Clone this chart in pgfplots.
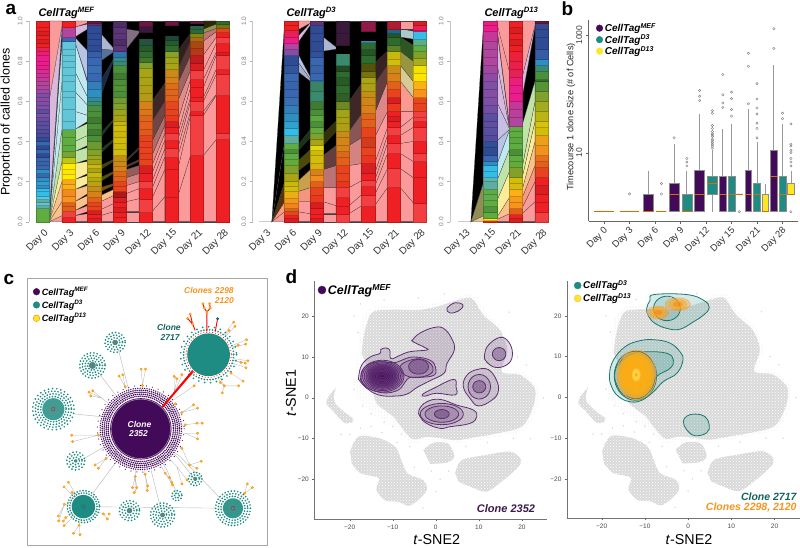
\documentclass[border=0pt]{standalone}
\usepackage{fontspec}
\setmainfont{Liberation Sans}
\usepackage{pgfplots}
\usepackage{pgfplotstable}
\pgfplotsset{compat=1.18}
\usetikzlibrary{patterns}

\newcommand{\fs}[1]{\fontsize{#1}{#1}\selectfont}
\newcommand{\ct}[1]{\textbf{\textit{CellTag\textsuperscript{#1}}}}

% stripe colours of panel a
\definecolor{rd}{HTML}{EE2024}\definecolor{rl}{HTML}{F23F41}\definecolor{rk}{HTML}{D81E20}
\definecolor{ro}{HTML}{E8431F}\definecolor{oa}{HTML}{E2601C}\definecolor{oc}{HTML}{D8801A}
\definecolor{or}{HTML}{F7941D}\definecolor{go}{HTML}{FBB016}\definecolor{ye}{HTML}{FFEC00}
\definecolor{yo}{HTML}{D2BC0C}\definecolor{ol}{HTML}{A8A416}\definecolor{og}{HTML}{83A02A}
\definecolor{gn}{HTML}{5FAD41}\definecolor{gm}{HTML}{4C8F3A}\definecolor{gk}{HTML}{2F6A2E}
\definecolor{tg}{HTML}{3A8A70}\definecolor{tl}{HTML}{5DAE9C}\definecolor{cy}{HTML}{62C5D8}
\definecolor{sk}{HTML}{35BDE8}\definecolor{sb}{HTML}{2E8FC0}\definecolor{bl}{HTML}{3A68B0}
\definecolor{bd}{HTML}{2F4B94}\definecolor{vi}{HTML}{5A4EA0}\definecolor{pu}{HTML}{7E4FA6}
\definecolor{mg}{HTML}{B0469E}\definecolor{pk}{HTML}{EC1C8C}\definecolor{rs}{HTML}{E8205A}
\definecolor{pd}{HTML}{5B3578}\definecolor{mr}{HTML}{6A1840}\definecolor{dk}{HTML}{3A1A3A}
% ribbon tints
\definecolor{tp}{HTML}{FA9A9A}\definecolor{to}{HTML}{FCC08A}\definecolor{ty}{HTML}{FBEC9A}
\definecolor{tv}{HTML}{BFE3A8}\definecolor{tc}{HTML}{BFE8F0}\definecolor{tb}{HTML}{B8C4E4}
\definecolor{tm}{HTML}{D8B8DC}
% clone colours
\definecolor{mef}{HTML}{440A5A}\definecolor{dthree}{HTML}{1E8C82}\definecolor{dthirteen}{HTML}{FDE725}
\definecolor{clorange}{HTML}{F7941D}\definecolor{clteal}{HTML}{14625E}\definecolor{clpurple}{HTML}{3B1A4A}
\definecolor{bggray}{HTML}{D9D9D9}\definecolor{leaf}{HTML}{FDB913}

% one column of stacked stripes: centre, list of top/colour
\newcommand{\stack}[2]{%
  \pgfmathsetmacro\xa{#1-.257}\pgfmathsetmacro\xb{#1+.257}%
  \gdef\ylast{0}%
  \foreach \yt/\cc in {#2}{%
    \edef\tmp{\noexpand\addplot[fill=\cc,draw=\cc!78!black,line width=.2pt,forget plot] coordinates {(\xa,\ylast)(\xb,\ylast)(\xb,\yt)(\xa,\yt)} --cycle;}%
    \tmp\xdef\ylast{\yt}}}
% ribbons between column i and i+1: left y0/left y1/right y0/right y1/colour
\newcommand{\gap}[2]{%
  \pgfmathsetmacro\xa{#1+.25}\pgfmathsetmacro\xb{#1+.75}%
  \foreach \la/\lb/\ra/\rb/\cc in {#2}{%
    \edef\tmp{\noexpand\addplot[fill=\cc,draw=black!75,line width=.2pt,forget plot] coordinates {(\xa,\la)(\xb,\ra)(\xb,\rb)(\xa,\lb)} --cycle;}%
    \tmp}}

\pgfplotsset{
  alluvial/.style={
    scale only axis, height=200.7pt, ymin=0, ymax=1,
    axis x line*=bottom, axis y line*=left,
    x axis line style={draw=none}, xtick style={draw=none},
    y axis line style={draw=gray!45,line width=.8pt,-}, ytick style={draw=gray!60},
    major tick length=3pt, tick align=outside,
    ytick={0,.2,.4,.6,.8,1}, yticklabels={0.0,0.2,0.4,0.6,0.8,1.0},
    yticklabel style={rotate=90,anchor=south,font=\fs{6.5},text=gray,yshift=0pt},
    xticklabel style={rotate=45,anchor=north east,font=\fs{10},text=black!80,inner sep=1pt,yshift=-2pt,xshift=-.5pt},
    clip=false},
  tsne/.style={
    scale only axis,
    axis x line*=bottom, axis y line*=left,
    axis line style={draw=black!55,line width=1pt,-},
    tick style={draw=black!60}, major tick length=2pt, tick align=outside,
    xtick={-20,-10,0,10,20}, ytick={-20,-10,0,10,20},
    xticklabels={−20,−10,0,10,20}, yticklabels={−20,−10,0,10,20},
    ticklabel style={font=\fs{6.5},text=black!70},
    legend cell align=left,
    legend style={draw=none,fill=none,anchor=north west,row sep=-1pt}},
  dotted ring/.style n args={3}{draw=#1,fill=none,line width=#2,line cap=round,dash pattern=on 0pt off #3},
}

% unit circle, scaled for rings and nested contours
\pgfplotstableread{
u v
1 0
.985 .174
.94 .342
.866 .5
.766 .643
.643 .766
.5 .866
.342 .94
.174 .985
0 1
-.174 .985
-.342 .94
-.5 .866
-.643 .766
-.766 .643
-.866 .5
-.94 .342
-.985 .174
-1 0
-.985 -.174
-.94 -.342
-.866 -.5
-.766 -.643
-.643 -.766
-.5 -.866
-.342 -.94
-.174 -.985
0 -1
.174 -.985
.342 -.94
.5 -.866
.643 -.766
.766 -.643
.866 -.5
.94 -.342
.985 -.174
1 0
}\unitring
\newcommand{\ovl}[5]{\addplot[#1,forget plot] table[x expr={#2+#4*\thisrow{u}},y expr={#3+#5*\thisrow{v}}] {\unitring};}
\newcommand{\drg}[6]{\ovl{dotted ring={#5}{#4}{#6}}{#1}{#2}{#3}{#3}}
\newcommand{\tdots}[4]{\drg{#1}{#2}{#3}{1.9pt}{dthree}{#4}}
\newcommand{\ctr}[2]{\addplot[#1,smooth cycle,tension=.7,forget plot] coordinates {#2};}

% t-SNE cell cloud outlines
\pgfplotstableread{
x y
-17.8 14.5
-17 19
-15 22
-10 22.5
-4 22.5
1 23.5
4 24.5
7 25.3
9.5 24.8
12 20.5
15.7 17
17.5 11.5
16.2 7
20 6.5
23.8 2.5
23.3 -3
20.5 -8
13.5 -9.7
9 -10.5
4 -11
-2 -10.5
-5.5 -11.2
-8.5 -8.5
-12 -6
-15 -3.5
-18 -.5
-19 3
-18.5 8
}\bghalo
\pgfplotstableread{
x y
-16.9 14.1
-16 18.2
-14.5 21.1
-9.8 21.6
-4.4 21.5
.2 22.3
3.7 23.5
7.2 24.5
8.7 24.1
11.1 20.2
14.9 16.6
16.6 11.7
15.3 6.4
19.6 5.6
23 2.3
22.6 -2.2
19.9 -7.1
13.4 -8.9
9.5 -9.6
4.9 -10.4
1.8 -10
-2.1 -9.6
-5.2 -10.2
-7.5 -7.9
-9.8 -4.7
-13.7 -1.4
-14.8 2.7
-16 7.6
-17.2 10.9
}\bgmain
\pgfplotstableread{
x y
-19.9 -13.2
-17.9 -9.5
-12.9 -10
-9.4 -12
-8.3 -14.4
-6.6 -18.5
-2.9 -20.2
-2.1 -22.6
-4 -25
-6.3 -26.5
-8.7 -25.5
-11.7 -25.2
-13.8 -22.6
-13.3 -19.7
-17.5 -18.5
-19.5 -16.1
}\bgleft
\pgfplotstableread{
x y
-2.9 -12.8
-.5 -11
2.9 -11.3
4.3 -14.4
2.6 -15.9
-1.3 -16.2
}\bgmid
\pgfplotstableread{
x y
4.5 -18.5
6 -15.3
11.8 -14
17.2 -13.2
19.7 -14.9
19.2 -16.9
15.7 -20.2
11.8 -23
8 -21.8
5.3 -20.6
}\bgright
\pgfplotstableread{
x y
-23.2 2.5
-24.9 .2
-25.4 -1.4
-23.7 -3.4
-21 -6.3
-19.1 -5.3
-21.4 -3.4
-23.3 -1.4
-23.7 .2
}\bgwisp
\pgfplotstableread{
x y
-18 6
-19 2
-17 -2
-15 -4
-12 -6
-10 -7
-8 -9
-19.5 -6
-17.5 -7.5
-15 -7
-12.5 -8.5
-9 -11
-6 -12
-20 -9
-22 -9
-5 -17
-1 -18
3 -18
1 -20
0 -23
-3 -27
17 21
19 10
21 8
17 4
18 -10
12 -11
7 -12
22 -10
25 0
-18 16
-19 20
-17.5 23
-12 24
-4 24.5
2 25.5
}\bgspeck
\newcommand{\cloudpart}[1]{%
  \addplot[fill=bggray,draw=none,smooth,tension=.5,forget plot] table {#1};
  \addplot[pattern=crosshatch dots,pattern color=white,draw=none,smooth,tension=.5,forget plot] table {#1};}
\newcommand{\cloud}{%
  \addplot[pattern=dots,pattern color=bggray,draw=none,smooth,tension=.5,forget plot] table {\bghalo};
  \cloudpart{\bgmain}\cloudpart{\bgleft}\cloudpart{\bgmid}\cloudpart{\bgright}\cloudpart{\bgwisp}
  \addplot[only marks,mark=*,mark size=.5pt,bggray,forget plot] table {\bgspeck};
}
% box plot: position, extent, colour, low whisker, q1, median, q3, high whisker
\newcommand{\bx}[8]{%
  \pgfmathsetmacro\xa{#1-#2/2}\pgfmathsetmacro\xb{#1+#2/2}%
  \addplot[draw=gray!80,line width=.8pt,forget plot] coordinates {(#1,#4)(#1,#8)};
  \addplot[fill=#3,draw=gray!90,line width=.5pt,forget plot] coordinates {(\xa,#5)(\xb,#5)(\xb,#7)(\xa,#7)} --cycle;
  \addplot[draw=orange!85!black,line width=.6pt,forget plot] coordinates {(\xa,#6)(\xb,#6)};}
% outliers of a box: position, values
\newcommand{\ol}[2]{\addplot[only marks,mark=o,mark size=1.2pt,mark options={draw=gray,fill=none},forget plot] table[row sep=\\,header=false,x expr={#1},y index=0] {#2};}

\begin{document}
\begin{tikzpicture}[x=1pt,y=1pt]
\path[use as bounding box] (0,0) rectangle (800,547);

% ---------- a, MEF
\begin{axis}[alluvial,at={(29pt,325.3pt)},anchor=south west,width=200.3pt,
  xmin=-.529,xmax=7.257,xtick={0,...,7},
  xticklabels={Day 0,Day 3,Day 6,Day 9,Day 12,Day 15,Day 21,Day 28}]
\gap{0}{0/0/0/.03/tp,0/0/.03/.1/to,0/0/.1/.2/to,0/0/.2/.3/ty,0/0/.3/.46/tv,0/0/.46/.7/tc,0/0/.7/.9/tc,0/.03/.9/.96/black,.03/.6/.96/.975/tm,.6/1/.975/1/tp}
\gap{1}{0/1/0/1/black,0/.03/0/.04/tp,.03/.055/.05/.08/tp,.055/.1/.09/.13/to,.1/.16/.14/.18/to,.16/.21/.19/.23/ty,.21/.29/.24/.3/ty,.29/.35/.31/.37/tv,.35/.4/.38/.43/tv,.4/.46/.43/.49/tv,.46/.55/.5/.53/tc,.55/.65/.53/.58/tc,.65/.75/.58/.62/tc,.75/.9/.62/.69/tc,.9/.92/.7/.85/tb,.92/.97/.96/.985/tm,.97/1/.99/1/tp}
\gap{2}{0/1/0/1/black,0/.03/0/.05/tp,.03/.06/.05/.09/tp,.06/.1/.09/.13/tp,.1/.13/.13/.16/to,.15/.17/.18/.19/oc!60!black,.2/.22/.24/.25/ol!50!black,.26/.28/.3/.31/ol!40!black,.34/.36/.4/.41/gm!40!black,.42/.44/.5/.51/gm!35!black,.62/.7/.8/.81/bl!40!black,.8/.86/.845/.855/bl!60!gray,.86/.94/.855/.865/tb!80!gray}
\gap{3}{0/1/0/1/black,0/.05/0/.05/tp,.05/.1/.05/.115/tp,.1/.14/.115/.165/tp,.14/.18/.165/.2/tp,.18/.22/.2/.24/tp!85!black,.22/.26/.24/.28/tp!60!black,.27/.28/.3/.31/tp!35!black,.3/.31/.36/.37/tp!25!black,.86/.96/.94/.95/tm!60!black}
\gap{4}{0/1/0/1/black,0/.05/0/.125/tp,.05/.115/.125/.26/tp,.115/.165/.26/.324/tp,.165/.2/.324/.365/tp,.2/.24/.365/.407/tp,.24/.28/.407/.44/tp,.28/.33/.44/.48/tp!90!black,.33/.4/.48/.53/tp!70!black,.4/.5/.53/.6/tp!45!black,.5/.6/.6/.69/tp!25!black}
\gap{5}{0/1/0/1/black,0/.125/0/.33/tp,.125/.26/.33/.53/tp,.26/.324/.53/.55/tp,.324/.365/.55/.6/tp,.365/.407/.6/.62/tp,.407/.44/.62/.67/tp,.44/.5/.67/.71/tp,.5/.6/.71/.755/tp!90!black,.6/.69/.755/.83/tp!65!black,.69/.76/.83/.9/tp!35!black,.76/.85/.9/.94/tp!20!black}
\gap{6}{0/1/0/1/black,0/.33/0/.41/tp,.33/.53/.41/.63/tp,.53/.55/.63/.635/tp,.55/.6/.635/.735/tp,.6/.62/.735/.76/tp,.62/.67/.76/.83/tp,.67/.71/.83/.845/tp,.71/.755/.845/.89/tp,.755/.83/.89/.92/tp,.83/.9/.92/.947/tp!92!black,.9/.94/.947/.963/tp!75!black,.94/.96/.963/.985/ol!50!gray,.96/1/.985/1/ol!25!black}
\stack{0}{.07/gn,.085/tl,.1/cy,.115/tl,.13/cy,.15/sk,.165/sk,.18/sb,.2/sk!60!bl,.22/sb,.24/bl,.26/sb,.28/bl,.3/bl!80!bd,.32/bl,.34/bd,.36/bl,.38/bd,.4/bl,.42/bd,.44/bd!70!pu,.46/bd!60!pu,.48/vi,.5/vi,.52/pu!70!bd,.54/pu,.56/vi,.58/pu,.6/pu,.62/pu!70!mg,.64/pu,.66/mg!60!pu,.68/mg,.7/mg,.72/mg!70!pk,.74/mg!50!pk,.76/mg!40!pk,.78/pk,.8/pk,.83/pk,.85/pk!60!rs,.87/rs,.89/rd,.91/rk,.93/rd,.95/rk,.97/rd,1/rd}
\stack{1}{.025/rd,.055/rl,.08/oa,.1/oa,.13/or,.16/or!80!oa,.185/go,.21/go!70!or,.235/ye,.26/ye!90!go,.29/ye,.32/og!50!ye,.35/og!70!gn,.38/gn,.42/gn,.46/gn,.5/cy,.56/cy,.62/cy,.65/cy,.7/cy,.73/cy,.77/cy,.8/cy,.83/cy,.86/cy,.9/cy,.92/bl,.97/mg,1/rd}
\stack{2}{.02/rk,.04/rd,.06/rk,.08/ro,.1/ro,.125/oa,.15/oc,.175/oc!60!ol,.2/ol!70!or,.22/ol!80!yo,.245/yo!80!ol,.265/ol,.285/yo!80!ol,.31/ol,.33/ol!85!gn,.36/og,.4/og!60!gm,.43/gm,.46/gm!85!black,.49/gm,.52/gm!85!black,.55/gm,.58/gm!90!tg,.6/tg,.62/tg!60!sb,.66/sb,.7/sb!60!bl,.74/bl,.78/bl!80!sb,.82/bl,.85/bl!70!bd,.88/bd,.91/bd!90!bl,.94/bd,.98/bd,.99/pd,1/mr}
\stack{3}{.025/rd,.05/rd,.075/rk,.1/rd,.125/rk,.15/rk!80!black,.175/ro,.2/ro,.225/oa,.25/oa!80!oc,.275/oc,.3/oc!80!ol,.33/oc!60!ol,.36/yo,.39/yo!90!ol,.42/yo,.45/yo!85!ol,.48/yo,.5/yo!70!ol,.53/ol,.56/ol!70!og,.59/og,.62/og!70!gm,.65/gm,.68/gm!85!og,.71/gm,.74/gm!85!black,.78/gm,.8/tg,.82/tg!70!sb,.85/sb!60!bd,.88/pd,.91/pd!85!black,.94/pd,.97/pd,1/pd!85!black}
\stack{4}{.05/rd,.115/rl,.165/rd,.2/rl,.24/rd,.28/rk,.31/ro,.34/ro!85!rd,.37/ro,.4/ro!85!rd,.43/ro,.46/oa!70!ro,.5/oa,.53/oa!85!oc,.56/oc!70!oa,.6/oc,.64/ol!70!oc,.68/ol!85!oc,.72/ol,.764/ol,.797/og,.82/gk!80!og,.85/gk,.88/gk!85!black,.914/tg!60!black,.947/black,.975/dk,1/mr}
\stack{5}{.125/rd,.26/rd,.324/rd,.365/rl,.407/rd,.44/rl,.47/rd,.5/rk,.53/ro!70!rd,.56/ro,.6/ro!85!oa,.63/oa,.66/oa!80!oc,.69/oa!60!oc,.72/oc,.76/oc!80!ol,.79/ol,.82/ol!80!og,.85/og!80!ol,.88/gk,.905/gk!85!black,.93/tg!50!black,.98/black,1/mr}
\stack{6}{.33/rd,.53/rl,.55/rd,.6/rl,.62/rd,.67/rd,.71/rd,.755/rl,.79/rk,.83/rk!90!black,.865/ro!80!black,.9/oa!75!black,.92/oc!80!black,.94/ol!80!black,.96/gk,.98/tg!70!black,.99/black,1/mr}
\stack{7}{.41/rd,.44/rl,.63/rd,.735/rl,.76/rd,.83/rl,.845/rk,.89/rd,.92/rl,.947/rd,.963/ro,.985/ol!70!black,1/gk}
\end{axis}

% ---------- a, D3
\begin{axis}[alluvial,at={(252.7pt,325.3pt)},anchor=south west,width=173.5pt,
  xmin=-.494,xmax=6.257,xtick={0,...,6},
  xticklabels={Day 3,Day 6,Day 9,Day 12,Day 15,Day 21,Day 28}]
\addplot[draw=gray!40,line width=.7pt,forget plot] coordinates {(-.257,0)(.25,0)};
\gap{0}{0/0/0/.05/tp,0/0/.05/.1/tp!80!or,0/0/.1/.2/oc!40!black,0/0/.2/.4/black,0/0/.4/1/black}
\gap{1}{0/1/0/1/black,0/.05/0/.04/tp,.05/.1/.04/.1/tp,.1/.15/.1/.17/tp!80!oc,.15/.2/.17/.26/ol!60!tp,.25/.3/.3/.36/ol!45!black,.35/.38/.42/.46/gm!35!black,.75/.8/.7/.71/tb!70!gray,.8/.84/.71/.72/tb,.89/.92/.98/.99/tm,.955/1/.99/1/tp}
\gap{2}{0/1/0/1/black,0/.04/0/.04/tp,.04/.1/.04/.08/tp,.1/.17/.08/.17/tp,.17/.26/.17/.28/tp!75!black,.26/.33/.28/.38/tp!40!black,.38/.44/.45/.5/ol!30!black,.85/.92/.86/.87/tb!80!gray}
\gap{3}{0/1/0/1/black,0/.04/0/.08/tp,.04/.08/.08/.135/tp,.08/.17/.135/.205/tp,.17/.28/.205/.29/tp,.28/.38/.29/.42/tp!85!black,.38/.45/.42/.54/tp!55!black,.45/.6/.54/.69/tp!25!black}
\gap{4}{0/1/0/1/black,0/.08/0/.17/tp,.08/.135/.17/.265/tp,.135/.175/.265/.34/tp,.175/.205/.34/.39/tp,.205/.24/.39/.43/tp,.24/.29/.43/.47/tp,.29/.42/.47/.55/tp,.42/.54/.55/.7/tp!88!black,.54/.69/.7/.78/tp!40!black,.69/.79/.78/.85/tp!22!black}
\gap{5}{0/1/0/1/black,0/.17/0/.095/tp,.17/.265/.095/.22/tp,.265/.34/.22/.3/tp,.34/.39/.3/.4/tp,.39/.43/.4/.47/tp,.43/.47/.47/.52/tp,.47/.55/.52/.55/tp,.55/.7/.55/.62/tp!90!or,.7/.78/.62/.7/ty!70!gray,.78/.85/.7/.8/ol!60!gray,.85/.92/.8/.88/gm!60!black,.92/.96/.91/.95/tc!70!gray,.96/1/.96/1/tp}
\stack{1}{.02/rk,.035/rd,.055/ro,.07/oa,.095/or!70!oa,.12/or,.15/go!80!ol,.175/yo,.2/yo!80!ol,.24/ol,.28/og,.31/gn!80!og,.34/gn,.36/gm,.39/gn,.43/tl,.465/sk,.5/sb!60!sk,.54/sb,.58/sb!60!bl,.62/bl!80!sb,.66/bl,.7/bl!85!bd,.74/bl,.78/bd!70!bl,.83/bd,.86/pu,.89/mg,.92/pk,.955/rs,.98/rd,1/rd}
\stack{2}{.02/rk,.04/rd,.07/rd,.1/rk,.135/ro!70!rd,.17/ro,.2/oa,.23/or!80!oa,.26/oc,.29/yo!70!or,.33/yo,.355/yo!90!ol,.38/ye!70!ol,.41/ol,.44/og,.47/gn!80!og,.5/gm,.53/gn!85!gm,.56/gm,.6/gm!85!black,.65/tg,.7/tg!80!gk,.705/sb,.74/bl,.78/bl!80!bd,.82/bl,.85/bd!80!bl,.9/bd,.94/bd!85!vi,.98/bd,1/pd}
\stack{3}{.04/rl,.08/rd,.125/rd,.17/rl,.2/ro!60!rd,.24/ro,.28/ro,.32/oa,.35/oa!80!oc,.38/oc,.42/oc!90!ol,.45/oc!70!ol,.49/ol!85!oc,.52/ol,.56/ol!80!og,.6/og!85!black,.64/gm!65!black,.68/gk,.72/gk!85!black,.75/gk,.78/gk!70!black,.84/tg,.88/black,.94/dk,1/dk}
\stack{4}{.08/rd,.135/rl,.175/rd,.205/rl,.24/rd,.29/rk,.33/ro!60!rd,.37/ro,.42/ro!90!black,.47/ro,.51/oa,.54/oa!80!oc,.58/oc,.62/oc!85!ol,.65/oc!60!ol,.69/ol!85!oc,.72/ol,.75/ol!70!black,.79/ol!50!black,.83/gk,.86/gk!80!black,.895/gk,.905/sb,.95/black,1/mr!70!rs}
\stack{5}{.17/rd,.265/rl,.34/rd,.39/rl,.43/rd,.47/rl,.5/rd,.525/rk,.55/rd,.59/ro!70!rd,.62/rk,.66/ro,.7/oa,.74/oc,.78/oc!70!ol,.81/yo,.85/yo!80!ol,.88/gk!60!ol,.92/gk,.94/gk!80!black,.96/sb!70!black,1/mr!50!rd}
\stack{6}{.095/rl,.22/rd,.3/rd,.34/rl,.4/rd,.47/rl,.5/rd,.52/rl,.55/rl,.59/ro,.62/ro!85!oa,.66/or,.7/go,.74/ye!85!go,.78/ye!85!ol,.815/og!50!yo,.85/og,.88/gn,.91/tl!70!gn,.95/sk,.955/pk,.98/rs,1/rk}
\end{axis}

% ---------- a, D13
\begin{axis}[alluvial,at={(450pt,325.3pt)},anchor=south west,width=98pt,
  xmin=-.564,xmax=3.257,xtick={0,...,3},
  xticklabels={Day 13,Day 15,Day 21,Day 28}]
\addplot[draw=gray!40,line width=.7pt,forget plot] coordinates {(-.257,0)(.25,0)};
\gap{0}{0/0/0/.03/to,0/0/.03/.2/ol!40!gray,0/0/.2/1/black}
\gap{1}{0/1/0/1/black,0/.01/0/.04/tp,.01/.02/.04/.12/to,.02/.1/.12/.25/ty,.1/.2/.25/.36/tv,.2/.28/.36/.455/tc,.28/.4/.455/.46/tb,.4/.6/.46/.465/tb!60!tm,.6/.8/.465/.47/tm,.8/.97/.47/.475/tm,.985/1/.49/.75/tp,.995/1/.75/1/tp}
\gap{2}{0/1/0/1/black,0/.04/0/.1/tp,.04/.07/.1/.2/tp,.07/.12/.2/.28/tp!80!or,.12/.16/.28/.4/to,.16/.22/.4/.5/ty,.22/.27/.5/.6/ty!60!tv,.27/.48/.6/.7/tv,.62/.72/.97/.98/tm,.72/1/.98/1/tp}
\stack{1}{.008/rd,.02/ye,.05/gn,.08/gm!80!gn,.11/gn,.14/gn!85!tl,.16/gn,.2/tl,.22/tl!70!cy,.25/sk,.28/sk,.3/sb,.33/bl,.37/bd,.4/bd!85!bl,.43/vi!80!bd,.47/vi,.5/vi!85!pu,.54/vi,.58/pu!70!vi,.62/pu,.66/pu!85!mg,.7/pu,.74/pu!70!mg,.78/mg!70!pu,.82/mg,.86/mg,.9/mg,.95/mg!70!pk,.98/pk,1/pk!80!rs}
\stack{2}{.02/rk,.04/rd,.07/oa,.1/or,.13/or!80!go,.16/go,.19/yo!80!go,.22/yo,.27/og,.3/gn!80!og,.33/gn,.36/gm,.39/gn,.42/gn!85!gm,.45/gn,.478/gn,.52/mg,.56/mg!85!pk,.6/mg!70!pk,.64/pk,.68/pk,.72/pk!70!rs,.76/rs,.8/rs!70!rd,.85/rs!40!rd,.88/rd,.91/rk,.94/rd,.97/rk,1/rd}
\stack{3}{.05/rl,.1/rd,.14/rd,.18/rk,.22/rd,.27/ro,.3/oa,.33/oa!70!or,.38/or!85!oc,.43/or!70!yo,.47/yo,.5/yo!85!ye,.55/yo!70!og,.6/yo!40!og,.65/og,.7/gm!80!og,.71/gk,.75/gm,.78/tg,.81/sb,.86/bl!60!bd,.92/bd,.96/bd,.99/bd!85!pd,1/mr}
\end{axis}

% ---------- b
\begin{axis}[scale only axis,at={(588.7pt,326pt)},anchor=south west,width=209.3pt,height=201pt,
  ymode=log,ymin=.695,ymax=1800,xmin=-.6,xmax=7.608,
  axis x line*=bottom,axis y line*=left,axis line style={draw=black!60,line width=.8pt,-},
  tick style={draw=black!60},major tick length=3pt,tick align=outside,minor tick num=0,
  ytick={10,1000},yticklabels={10,1000},
  yticklabel style={rotate=90,anchor=south,font=\fs{8.5},text=black!75},
  xtick={0,...,7},xticklabels={Day 0,Day 3,Day 6,Day 9,Day 12,Day 15,Day 21,Day 28},
  xticklabel style={rotate=45,anchor=north east,font=\fs{9.5},text=black!80,inner sep=1pt,xshift=-1pt},
  legend cell align=left,
  legend style={draw=none,fill=none,at={(.035,.995)},anchor=north west,font=\fs{10},row sep=-2.5pt,inner sep=0pt}]
\addlegendimage{only marks,mark=*,mark size=3.3pt,mark options={fill=mef,draw=mef}}
\addlegendentry{\ct{MEF}}
\addlegendimage{only marks,mark=*,mark size=3.3pt,mark options={fill=dthree,draw=dthree}}
\addlegendentry{\ct{D3}}
\addlegendimage{only marks,mark=*,mark size=3.3pt,mark options={fill=dthirteen,draw=dthirteen}}
\addlegendentry{\ct{D13}}
\bx{0}{.76}{gray}{1}{1}{1}{1}{1}
\bx{1}{.76}{gray}{1}{1}{1}{1}{1}\ol{1}{2\\}
\bx{1.75}{.39}{mef}{1}{1}{1}{2}{5}
\bx{2.25}{.39}{gray}{1}{1}{1}{1}{1}\ol{2.25}{2\\3\\}
\bx{2.75}{.39}{mef}{1}{1}{2}{3}{14}\ol{2.75}{18\\}
\bx{3.25}{.39}{dthree}{1}{1}{1}{2}{5}\ol{3.25}{6\\7\\8\\}
\bx{3.75}{.39}{mef}{1}{1}{2}{5}{46}\ol{3.75}{77\\91\\114\\}
\bx{4.25}{.39}{dthree}{1}{2}{3}{4}{11}\ol{4.25}{12\\13\\14\\15\\16\\17\\19\\20\\21\\23\\26\\29\\47\\52\\}
\bx{4.66}{.26}{mef}{1}{1}{2}{4}{25}\ol{4.66}{59\\70\\97\\213\\}
\bx{5}{.26}{dthree}{1}{1}{2}{4}{31}\ol{5}{42\\54\\83\\107\\}
\bx{5.31}{.26}{gray}{2}{2}{2}{2}{2}\ol{5.31}{1\\}
\bx{5.66}{.26}{mef}{1}{1}{2}{5}{56}\ol{5.66}{68\\295\\490\\}
\bx{6}{.26}{dthree}{1}{1}{2}{3}{15}\ol{6}{18\\26\\32\\46\\58\\82\\150\\}
\bx{6.33}{.26}{dthirteen}{1}{1}{1}{2}{3}
\bx{6.66}{.26}{mef}{1}{1}{4}{11}{315}\ol{6.66}{590\\1280\\}
\bx{7}{.26}{dthree}{1}{1}{2}{4}{31}\ol{7}{38\\47\\}
\bx{7.33}{.26}{dthirteen}{2}{2}{2}{3}{5}\ol{7.33}{1\\6\\7\\8\\10\\11\\13\\14\\31\\}
\end{axis}

% ---------- c, coordinates are positions in the drawing, y downwards
\begin{axis}[scale only axis,at={(27pt,2pt)},anchor=south west,width=240pt,height=267pt,
  xmin=81,xmax=800,ymin=55,ymax=855,y dir=reverse,xtick=\empty,ytick=\empty,
  axis line style={draw=gray!70,line width=.8pt},
  legend cell align=left,
  legend style={draw=none,fill=none,at={(.025,.975)},anchor=north west,font=\fs{9.1},row sep=-.5pt,inner sep=0pt}]
\addlegendimage{only marks,mark=*,mark size=3.3pt,mark options={fill=mef,draw=mef}}
\addlegendentry{\ct{MEF}}
\addlegendimage{only marks,mark=*,mark size=3.3pt,mark options={fill=dthree,draw=dthree}}
\addlegendentry{\ct{D3}}
\addlegendimage{only marks,mark=*,mark size=3.3pt,mark options={fill=dthirteen,draw=orange}}
\addlegendentry{\ct{D13}}
% grey edges
\addplot[draw=gray!50,line width=.5pt,forget plot] coordinates {(385,388)(355,270)(385,388)(422,507)(350,410)(300,345)(350,410)(422,507)(300,470)(220,462)(300,470)(422,507)(305,565)(250,597)(305,565)(422,507)(345,610)(278,700)(345,610)(422,507)(455,640)(480,740)(455,640)(422,507)(500,630)(530,700)(500,630)(422,507)(530,590)(585,660)(530,590)(422,507)(540,590)(660,715)(540,590)(422,507)};
\addplot[draw=gray!50,line width=.4pt,forget plot] coordinates {(422,507)(427,377)(423,328)(427,377)(436,328)(427,377)(422,507)(375,381)(357,349)(375,381)(368,345)(375,381)(422,507)(305,415)(267,397)(305,415)(272,408)(305,415)(278,393)(305,415)(422,507)(295,526)(215,526)(295,526)(218,545)(295,526)(422,507)(318,596)(285,615)(318,596)(295,625)(318,596)(422,507)(405,650)(397,683)(405,650)(410,683)(405,698)(405,650)(422,507)(435,643)(443,678)(441,692)(435,643)(422,507)(495,640)(508,653)(515,668)(517,675)(495,640)(422,507)(530,620)(545,672)(530,620)(560,660)(530,620)(422,507)(545,565)(568,615)(590,625)(568,615)(603,604)(568,615)(545,565)(422,507)(555,520)(592,520)(555,520)(592,537)(555,520)(422,507)(555,495)(590,490)(606,490)(590,490)(555,495)(422,507)(545,458)(592,445)(545,458)(580,435)(545,458)(422,507)(520,420)(582,378)(520,420)(422,507)(522,400)(522,350)(530,357)(522,400)(545,345)(522,400)(422,507)};
\addplot[draw=gray!50,line width=.4pt,forget plot] coordinates {(250,740)(205,667)(250,740)(192,681)(250,740)(216,697)(250,740)(193,733)(175,768)(193,733)(176,783)(190,783)(197,773)(250,740)(192,797)(250,740)(237,796)(220,820)(237,796)(240,824)(237,796)(250,740)(310,762)(327,762)(310,762)(322,777)(310,762)(250,740)(698,745)(733,700)(741,672)(733,700)(756,683)(733,700)(698,745)};
\addplot[draw=gray!50,line width=.4pt,forget plot] coordinates {(625,285)(700,187)(625,285)(704,200)(625,285)(686,212)(625,285)(739,240)(625,285)(736,253)(625,285)(714,256)(625,285)(743,303)(625,285)(735,310)(625,285)(722,308)(625,285)(737,324)(625,285)(692,340)(728,364)(692,340)(625,285)(660,368)(672,378)(666,399)(672,378)(715,378)(672,378)(625,285)};
% clone 2352
\ovl{fill=white,draw=none}{422}{507}{124}{124}
\drg{422}{507}{130}{1.2pt}{mef}{6pt}
\drg{422}{507}{122}{1.5pt}{mef}{2.3pt}
\drg{422}{507}{116}{1.7pt}{mef}{2.1pt}
\drg{422}{507}{110}{1.7pt}{mef}{2pt}
\drg{422}{507}{104}{1.7pt}{mef}{2pt}
\drg{422}{507}{98}{1.7pt}{mef}{2pt}
\ovl{fill=mef,draw=none}{422}{507}{92}{92}
\ovl{draw=mef!45,line width=.6pt,fill=none}{422}{507}{89}{89}
% clone 2717
\ovl{fill=white,draw=none}{625}{285}{76}{76}
\tdots{625}{285}{84}{6pt}
\tdots{625}{285}{75}{2.9pt}
\drg{625}{285}{68}{1.1pt}{red}{3pt}
\ovl{fill=dthree,draw=none}{625}{285}{64}{64}
% smaller clones of the teal network
\tdots{160}{448}{62}{4.2pt}
\tdots{160}{448}{54}{3.2pt}
\tdots{160}{448}{46}{3pt}
\tdots{160}{448}{38}{2.8pt}
\ovl{fill=dthree,draw=none,opacity=.85}{160}{448}{33}{33}
\ovl{fill=gray,draw=none,opacity=.4}{160}{448}{14}{14}
\ovl{fill=none,draw=black!70,line width=.4pt}{160}{448}{5}{5}
\tdots{277}{317}{38}{3.4pt}
\tdots{277}{317}{30}{3pt}
\tdots{277}{317}{22}{2.8pt}
\tdots{277}{317}{14}{2.8pt}
\ovl{fill=dthree!50!gray,draw=none}{277}{317}{10}{10}
\tdots{345}{248}{30}{3.4pt}
\tdots{345}{248}{22}{3pt}
\tdots{345}{248}{14}{3pt}
\ovl{fill=dthree!40!gray,draw=none}{345}{248}{8}{8}
\tdots{227}{603}{27}{3.6pt}
\tdots{227}{603}{19}{3.2pt}
\tdots{227}{603}{11}{3pt}
\ovl{fill=dthree!50!gray,draw=none}{227}{603}{5}{5}
\tdots{250}{740}{48}{3pt}
\tdots{250}{740}{41}{2.6pt}
\ovl{fill=dthree,draw=none}{250}{740}{35}{35}
\ovl{fill=none,draw=black!70,line width=.4pt}{250}{740}{5}{5}
\tdots{388}{752}{30}{3.4pt}
\tdots{388}{752}{22}{3pt}
\tdots{388}{752}{14}{3pt}
\ovl{fill=dthree!40!gray,draw=none}{388}{752}{8}{8}
\tdots{487}{765}{36}{3.4pt}
\tdots{487}{765}{28}{3pt}
\tdots{487}{765}{20}{3pt}
\tdots{487}{765}{12}{3pt}
\ovl{fill=dthree!40!gray,draw=none}{487}{765}{7}{7}
\tdots{530}{707}{15}{3pt}
\tdots{530}{707}{7}{2.5pt}
\tdots{585}{657}{20}{3pt}
\tdots{585}{657}{12}{3pt}
\ovl{fill=dthree!50!gray,draw=none}{585}{657}{6}{6}
\tdots{698}{745}{52}{3.2pt}
\tdots{698}{745}{44}{3pt}
\tdots{698}{745}{36}{2.8pt}
\ovl{fill=dthree,draw=none,opacity=.9}{698}{745}{30}{30}
\ovl{fill=gray,draw=none,opacity=.35}{698}{745}{12}{12}
\ovl{fill=none,draw=black!70,line width=.4pt}{698}{745}{6}{6}
% red edges
\addplot[draw=red,line width=.9pt,forget plot] coordinates {(487,443)(580,335)(486,440)(577,332)};
\addplot[draw=red,line width=.9pt,forget plot] coordinates {(585,212)(577,193)(570,163)(577,193)(562,176)};
\addplot[draw=red,line width=.9pt,forget plot] coordinates {(620,215)(620,157)(612,145)(608,132)(612,145)(620,157)(630,145)(628,132)};
\addplot[draw=red,line width=.9pt,forget plot] coordinates {(645,215)(652,177)};
% leaves
\addplot[only marks,mark=*,mark size=1.3pt,mark options={fill=leaf,draw=orange,line width=.2pt},forget plot] coordinates {
(423,328)(436,328)(427,377)(357,349)(368,345)(375,381)(267,397)(272,408)(278,393)(215,526)(218,545)(295,526)
(285,615)(295,625)(318,596)(405,650)(397,683)(410,683)(402,698)(435,643)(443,678)(441,692)(508,653)(515,668)
(495,640)(517,675)(545,672)(560,660)(568,615)(590,625)(603,604)(545,565)(592,520)(592,537)(555,495)(590,490)
(606,490)(592,445)(580,435)(545,458)(525,432)(522,350)(530,357)(545,345)(582,378)(205,667)(192,681)(216,697)
(193,733)(175,768)(176,783)(190,783)(197,773)(192,797)(237,796)(220,820)(240,824)(310,762)(327,762)(322,777)
(741,672)(756,683)(733,700)(700,187)(704,200)(686,212)(739,240)(736,253)(714,256)(743,303)(735,310)(722,308)
(737,324)(692,340)(728,364)(660,368)(672,378)(666,399)(715,378)(570,163)(577,193)(562,176)(608,132)(628,132)
(620,157)(612,145)(630,145)};
\addplot[only marks,mark=*,mark size=1.2pt,mark options={fill=clteal,draw=clteal},forget plot] coordinates {(652,177)};
\node[font=\fs{8.5}\bfseries\itshape,text=white] at (axis cs:418,493) {Clone};
\node[font=\fs{8.5}\bfseries\itshape,text=white] at (axis cs:415,522) {2352};
\node[font=\fs{8.5}\bfseries\itshape,text=clorange] at (axis cs:626,92) {Clones 2298};
\node[font=\fs{8.5}\bfseries\itshape,text=clorange] at (axis cs:672,122) {2120};
\node[font=\fs{8.5}\bfseries\itshape,text=clteal] at (axis cs:506,202) {Clone};
\node[font=\fs{8.5}\bfseries\itshape,text=clteal] at (axis cs:510,232) {2717};
\end{axis}

% ---------- d, left
\begin{axis}[tsne,at={(314.3pt,27.7pt)},anchor=south west,width=232.4pt,height=238.6pt,
  xmin=-28.2,xmax=25.75,ymin=-29.8,ymax=28.7,
  legend style={at={(.015,.995)},font=\fs{12.4},inner sep=0pt}]
\addlegendimage{only marks,mark=*,mark size=4pt,mark options={fill=mef,draw=mef}}
\addlegendentry{\ct{MEF}}
\cloud
\pgfplotsset{cont/.style={fill=mef,fill opacity=.14,draw=mef!85,line width=.8pt}}
\ctr{cont}{(-10.4,9.6)(-8.3,10.4)(-6,11.3)(-2.1,11.7)(-2.5,12.3)(-5.2,13.7)(-5.3,14.3)(-3.6,15.9)(-.5,17.2)(1.8,17)(3.7,14.5)(4.3,11.7)(2.6,8.4)(1.9,6)(-1.3,4.2)(-4.4,2.5)(-6.7,.9)(-9.8,.4)(-13.3,.7)(-16,2.3)(-17.7,4.2)(-17.9,5.1)(-17.2,8)(-15.2,10)(-12.9,10.9)(-12.8,11.8)(-11.7,12.2)(-10.7,11.7)}
\ctr{cont}{(-17.4,5.1)(-16.4,7.6)(-13.7,8.8)(-9.8,8.6)(-7.9,9.2)(-5.2,10)(-1.3,9.2)(0,7.2)(-.5,5.5)(-3.6,5)(-6,5)(-7.1,3.9)(-8.7,1.9)(-12.1,1.2)(-15.6,2.3)(-17.2,3.9)}
\ctr{cont}{(-8.3,7.6)(-6,9.2)(-2.9,9.4)(-.7,7.6)(-1.3,5.8)(-4.4,5)(-7.1,5.5)}
\ovl{cont,fill opacity=.3}{-4}{7.6}{2.3}{1.8}
\ovl{cont}{-12.4}{5.3}{5}{3.9}
\ovl{cont}{-12.4}{5.3}{4.6}{3.55}
\ovl{cont}{-12.4}{5.3}{4.2}{3.25}
\ovl{cont,fill opacity=.3}{-12.4}{5.3}{3.8}{2.95}
\ovl{cont,fill opacity=.3}{-12.4}{5.3}{3.4}{2.65}
\ovl{cont,fill opacity=.3}{-12.4}{5.3}{3}{2.35}
\ovl{cont,fill opacity=.3}{-12.4}{5.3}{2.6}{2.05}
\ovl{cont,fill opacity=.3}{-12.4}{5.3}{2.2}{1.75}
\ovl{cont,fill opacity=.3}{-12.4}{5.3}{1.8}{1.45}
\ovl{cont,fill opacity=.3}{-12.4}{5.3}{1.4}{1.15}
\ovl{cont,fill opacity=.3}{-12.4}{5.3}{1}{.8}
\ovl{cont,fill opacity=.3}{-12.4}{5.3}{.5}{.4}
\ctr{cont}{(2.6,21.9)(4.5,23.3)(6.3,22.7)(5.3,21.3)(3.3,20.8)}
\ctr{cont}{(11.3,10.4)(12.2,12.9)(14.9,14.8)(16.9,13.7)(17.8,10.9)(16.9,8.4)(14.1,7.4)(11.8,8.8)}
\ovl{cont,fill opacity=.3}{14.7}{10.7}{1.55}{1.6}
\ctr{cont}{(-3.1,.8)(-.5,2.3)(4.1,4.5)(4.7,2.7)(4.5,.7)(.2,1.1)(-2.5,.4)}
\ctr{cont}{(6.4,2.7)(7.2,5.5)(9.5,6.9)(12.2,6.9)(14.1,4.3)(14.5,1.5)(13,-.6)(9.9,-2)(8,-.2)}
\ovl{cont}{10.1}{2.7}{2.6}{3}
\ovl{cont,fill opacity=.3}{10.1}{2.7}{1.5}{1.5}
\ctr{cont}{(-3.9,-3)(-2.1,-1)(1,-.4)(4.9,-1.8)(8.7,-3)(9.5,-4.7)(7.9,-6.3)(3.3,-7.1)(1,-7.5)(-2.1,-6.3)(-3.6,-4.7)}
\ovl{cont}{1.4}{-4}{5}{2.6}
\ovl{cont}{1.4}{-4}{3.9}{2}
\ovl{cont,fill opacity=.3}{1.4}{-4}{1.7}{1.1}
\node[anchor=east,font=\fs{11}\bfseries\itshape,text=clpurple] at (rel axis cs:.965,.045) {Clone 2352};
\end{axis}

% ---------- d, right
\begin{axis}[tsne,at={(567pt,28.7pt)},anchor=south west,width=233pt,height=237.6pt,
  xmin=-28.03,xmax=25.9,ymin=-29.66,ymax=28.6,
  legend style={at={(.03,1.01)},font=\fs{9.8},inner sep=0pt}]
\addlegendimage{only marks,mark=*,mark size=3.5pt,mark options={fill=dthree,draw=dthree}}
\addlegendentry{\ct{D3}}
\addlegendimage{only marks,mark=*,mark size=3.5pt,mark options={fill=dthirteen,draw=orange!60}}
\addlegendentry{\ct{D13}}
\cloud
\pgfplotsset{cont/.style={fill=dthree,fill opacity=.18,draw=dthree!85!black,line width=.8pt},
  cor/.style={fill=orange,fill opacity=.3,draw=orange!70,line width=.5pt},
  cgo/.style={fill=go,fill opacity=.55,draw=go!85!orange,line width=.45pt},
  cye/.style={fill=dthirteen!90!orange,fill opacity=.6,draw=orange!50,line width=.4pt}}
\ctr{cont}{(-18.2,5.5)(-17.3,9.1)(-14.6,12.4)(-11.1,13.9)(-7.6,14.1)(-4.2,13.3)(-1.9,11.2)(-1.2,9.1)(-2.6,5.9)(-5.7,3.9)(-8,1.4)(-10.7,-.7)(-13.4,-1.1)(-16.1,.2)(-17.7,2.6)}
\ctr{cont}{(-17,5.5)(-15.8,8.7)(-12.7,10.8)(-9.6,11.2)(-4.9,10.8)(-3.4,9.1)(-4.2,7.1)(-7.3,5.1)(-8.4,2.2)(-11.1,-.2)(-14.2,.2)(-16.1,2.2)}
\ovl{cont}{-12.2}{5.3}{4.9}{6}
\ovl{cor}{-12}{5.5}{4.6}{6.1}
\ovl{cgo}{-12}{5.5}{4.2}{5.6}
\ovl{cgo}{-12}{5.5}{3.8}{5.1}
\ovl{cgo}{-12}{5.5}{3.4}{4.6}
\ovl{cgo}{-12}{5.5}{3}{4.1}
\ovl{cgo}{-12}{5.5}{2.6}{3.6}
\ovl{cgo}{-12}{5.5}{2.2}{3.1}
\ovl{cgo}{-12}{5.5}{1.8}{2.6}
\ovl{cgo}{-12}{5.5}{1.4}{2.1}
\ovl{cye}{-12}{5.5}{.9}{1.5}
\ovl{cye,fill opacity=.9}{-12}{5.5}{.7}{1.2}
\ovl{cor,fill opacity=.6}{-12}{5.5}{.2}{.35}
\ctr{cont}{(-9.6,21.8)(-8.8,23.8)(-7.9,25.2)(-.3,25.2)(3.6,23.8)(4.9,22)(3.6,20.2)(1.2,18.5)(-1.9,16.7)(-4.9,16.9)(-7.6,18.1)(-9.1,19.8)}
\ovl{cont}{-4.9}{21.8}{3.1}{3}
\ovl{cor}{-6.9}{20.8}{2.5}{1.6}
\ovl{cgo}{-6.9}{20.8}{1.8}{1.2}
\ovl{cor,fill opacity=.5}{-6.9}{20.8}{1.1}{.7}
\ovl{cor}{-2.4}{22.8}{2.9}{1.6}
\ovl{cgo}{-2.4}{22.8}{2}{1.15}
\ovl{cor,fill opacity=.5}{-2.4}{22.8}{1.2}{.7}
\ctr{cont}{(-1.1,-6)(-.3,-4.6)(1.6,-4.1)(3.9,-4.7)(4.9,-6.8)(4.3,-8.7)(1.6,-9.4)(-.3,-8)}
\node[anchor=east,font=\fs{10.5}\bfseries\itshape,text=clteal] at (rel axis cs:1,.09) {Clone 2717};
\node[anchor=east,font=\fs{10.5}\bfseries\itshape,text=clorange] at (rel axis cs:1,.045) {Clones 2298, 2120};
\end{axis}

% ---------- text around the panels
\node[anchor=west,font=\fs{19}\bfseries] at (2,538) {a};
\node[anchor=west,font=\fs{19}\bfseries] at (558,538.5) {b};
\node[anchor=west,font=\fs{19}\bfseries] at (0,268) {c};
\node[anchor=west,font=\fs{19}\bfseries] at (282,270) {d};
\node[anchor=west,font=\fs{11}] at (35,534) {\ct{MEF}};
\node[anchor=west,font=\fs{11}] at (283,534) {\ct{D3}};
\node[anchor=west,font=\fs{11}] at (481,534) {\ct{D13}};
\node[rotate=90,font=\fs{12.5}] at (6.5,425) {Proportion of called clones};
\node[rotate=90,font=\fs{9.2},text=black!85] at (571,430) {Timecourse 1 clone Size (\# of Cells)};
\node[rotate=90,font=\fs{14.3}] at (291,154) {\textit{t}-SNE1};
\node[font=\fs{14.3}] at (436.7,7.5) {\textit{t}-SNE2};
\node[font=\fs{14.3}] at (689,7.5) {\textit{t}-SNE2};
\end{tikzpicture}
\end{document}
